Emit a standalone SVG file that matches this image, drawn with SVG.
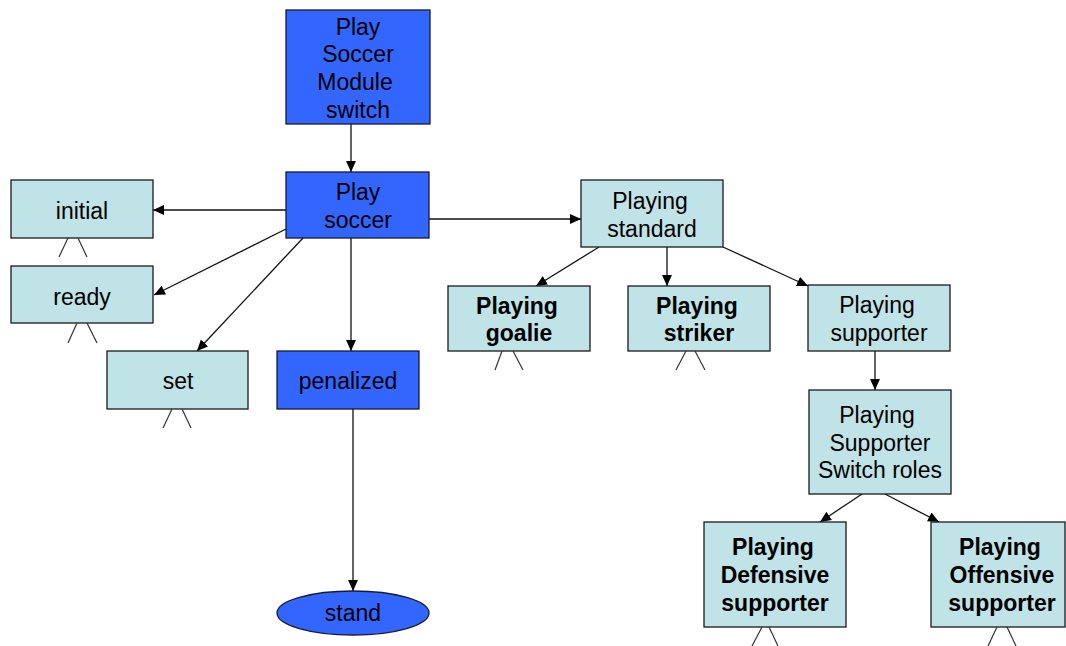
<svg xmlns="http://www.w3.org/2000/svg" width="1066" height="646" viewBox="0 0 1066 646">
  <style>
    .blue { fill: #3366ff; stroke: #1a1a33; stroke-width: 1.3; }
    .cyan { fill: #bfe3e6; stroke: #1a1a1a; stroke-width: 1.3; }
    text { font-family: "Liberation Sans", Arial, sans-serif; font-size: 23px; fill: #000; text-anchor: middle; dominant-baseline: central; }
    .b { font-weight: bold; }
    .edge { stroke: #111; stroke-width: 1.3; fill: none; marker-end: url(#arr); }
    .leg { stroke: #333; stroke-width: 1.2; fill: none; }
  </style>
  <defs>
    <marker id="arr" viewBox="0 0 10 10" refX="10" refY="5" markerWidth="11" markerHeight="11" markerUnits="userSpaceOnUse" orient="auto">
      <path d="M0,0.5 L10,5 L0,9.5 Z" fill="#000"/>
    </marker>
  </defs>
  <rect width="1066" height="646" fill="#ffffff"/>

  <g id="connectors">
    <line class="edge" x1="351" y1="124" x2="351" y2="172"/>
    <line class="edge" x1="286" y1="210" x2="153" y2="210"/>
    <line class="edge" x1="286" y1="229" x2="154" y2="295"/>
    <line class="edge" x1="303" y1="238" x2="197" y2="351"/>
    <line class="edge" x1="351" y1="238" x2="351" y2="351"/>
    <line class="edge" x1="353" y1="409" x2="353" y2="591"/>
    <line class="edge" x1="429" y1="219" x2="581" y2="219"/>
    <line class="edge" x1="599" y1="247" x2="536" y2="286"/>
    <line class="edge" x1="667" y1="247" x2="667" y2="286"/>
    <line class="edge" x1="723" y1="247" x2="808" y2="286"/>
    <line class="edge" x1="875" y1="351" x2="875" y2="390"/>
    <line class="edge" x1="862" y1="494" x2="820" y2="522"/>
    <line class="edge" x1="885" y1="494" x2="939" y2="522"/>
  </g>

  <g id="n-module-switch">
    <rect class="blue" x="286" y="10" width="144" height="114"/>
    <text x="358" y="27">Play</text>
    <text x="358" y="54">Soccer</text>
    <text x="355" y="82">Module</text>
    <text x="358" y="110">switch</text>
  </g>

  <g id="n-play-soccer">
    <rect class="blue" x="286" y="172" width="143" height="66"/>
    <text x="358" y="192">Play</text>
    <text x="358" y="220">soccer</text>
  </g>

  <g id="n-initial">
    <rect class="cyan" x="11" y="180" width="142" height="58"/>
    <text x="82" y="211">initial</text>
    <path class="leg" d="M68,238 L59,257 M78,238 L87,257"/>
  </g>

  <g id="n-ready">
    <rect class="cyan" x="11" y="266" width="142" height="57"/>
    <text x="82" y="297">ready</text>
    <path class="leg" d="M77,323 L68,343 M87,323 L97,343"/>
  </g>

  <g id="n-set">
    <rect class="cyan" x="107" y="351" width="141" height="58"/>
    <text x="178" y="381">set</text>
    <path class="leg" d="M172,409 L163,428 M182,409 L191,428"/>
  </g>

  <g id="n-penalized">
    <rect class="blue" x="277" y="351" width="142" height="58"/>
    <text x="348" y="381">penalized</text>
  </g>

  <g id="n-stand">
    <ellipse class="blue" cx="353" cy="613" rx="76" ry="22"/>
    <text x="353" y="613">stand</text>
  </g>

  <g id="n-playing-standard">
    <rect class="cyan" x="581" y="180" width="142" height="67"/>
    <text x="650" y="201">Playing</text>
    <text x="652" y="229">standard</text>
  </g>

  <g id="n-goalie">
    <rect class="cyan" x="448" y="286" width="142" height="65"/>
    <text class="b" x="517" y="306">Playing</text>
    <text class="b" x="519" y="333">goalie</text>
    <path class="leg" d="M502,351 L495,370 M513,351 L523,370"/>
  </g>

  <g id="n-striker">
    <rect class="cyan" x="628" y="286" width="142" height="65"/>
    <text class="b" x="697" y="306">Playing</text>
    <text class="b" x="699" y="333">striker</text>
    <path class="leg" d="M686,351 L676,370 M695,351 L705,370"/>
  </g>

  <g id="n-supporter">
    <rect class="cyan" x="808" y="285" width="142" height="66"/>
    <text x="877" y="305">Playing</text>
    <text x="879" y="333">supporter</text>
  </g>

  <g id="n-switch-roles">
    <rect class="cyan" x="809" y="390" width="142" height="104"/>
    <text x="877" y="415">Playing</text>
    <text x="880" y="443">Supporter</text>
    <text x="880" y="470">Switch roles</text>
  </g>

  <g id="n-defensive">
    <rect class="cyan" x="704" y="522" width="142" height="105"/>
    <text class="b" x="773" y="547">Playing</text>
    <text class="b" x="775" y="575">Defensive</text>
    <text class="b" x="775" y="603">supporter</text>
    <path class="leg" d="M762,627 L752,646 M769,627 L778,646"/>
  </g>

  <g id="n-offensive">
    <rect class="cyan" x="931" y="522" width="134" height="105"/>
    <text class="b" x="1000" y="547">Playing</text>
    <text class="b" x="1002" y="575">Offensive</text>
    <text class="b" x="1002" y="603">supporter</text>
    <path class="leg" d="M997,627 L988,646 M1007,627 L1016,646"/>
  </g>
</svg>
